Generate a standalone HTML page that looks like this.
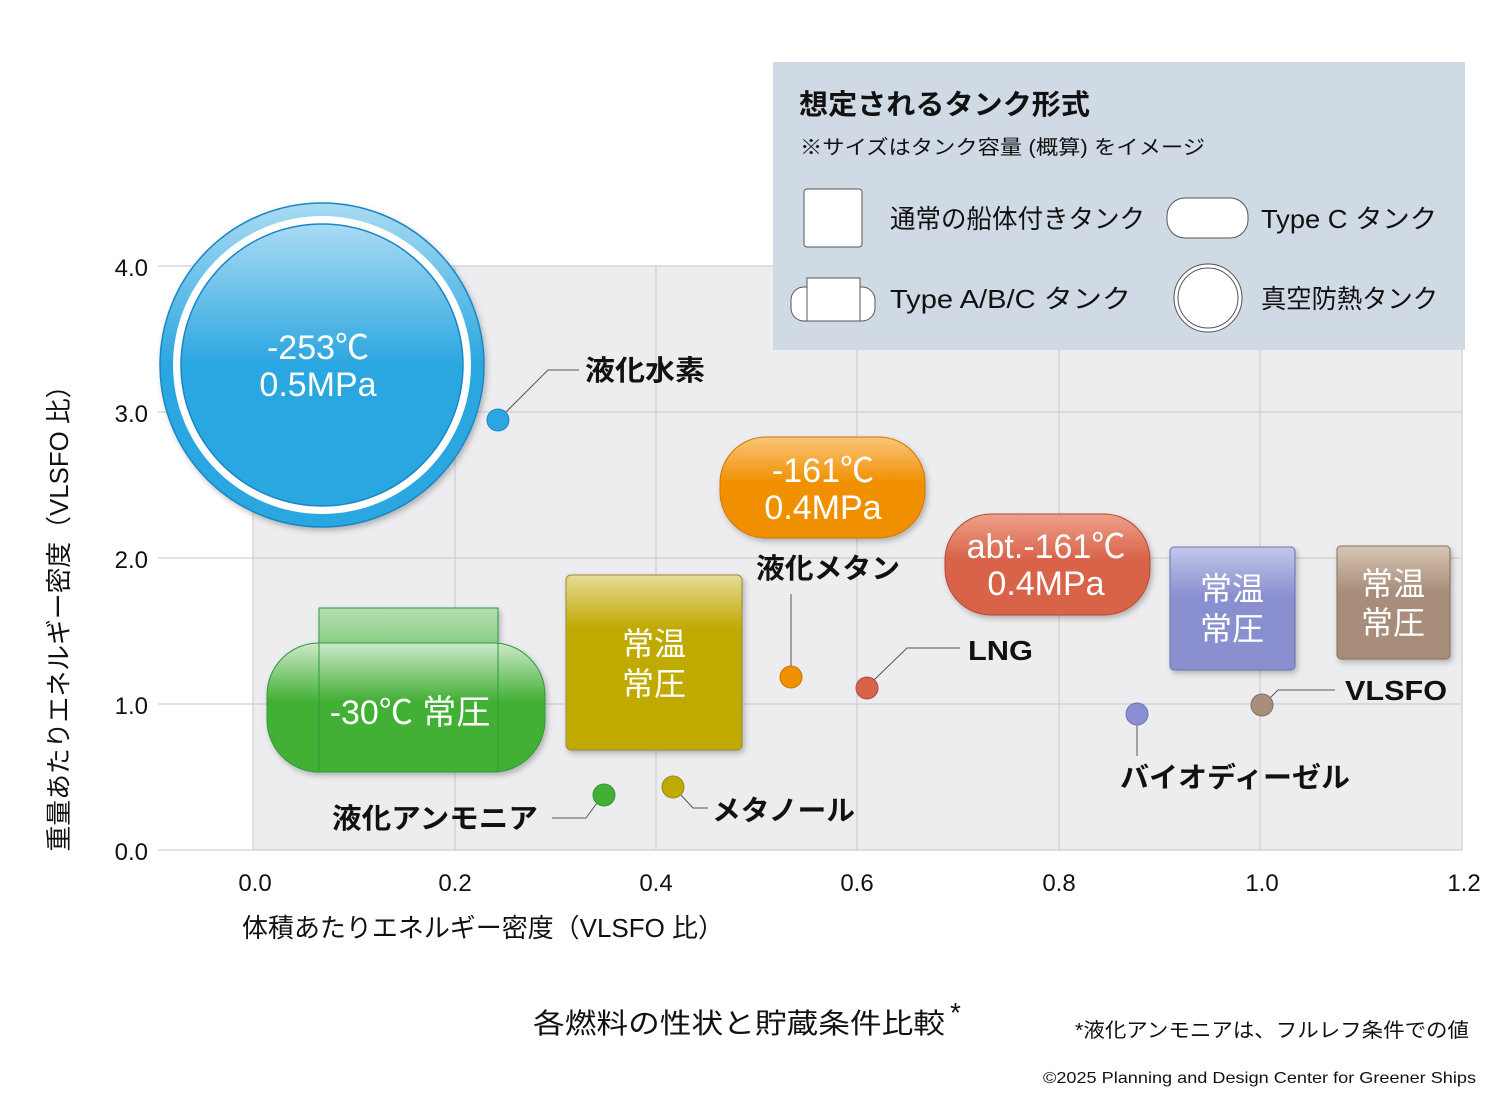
<!DOCTYPE html>
<html><head><meta charset="utf-8"><style>
html,body{margin:0;padding:0;background:#fff}
svg{display:block}
text{font-family:"Liberation Sans","Noto Sans CJK JP",sans-serif}
</style></head><body>
<svg width="1501" height="1102" viewBox="0 0 1501 1102" xmlns="http://www.w3.org/2000/svg">
<defs>
<linearGradient id="gb" x1="0" y1="0" x2="0" y2="1"><stop offset="0" stop-color="#a9dbf3"/><stop offset="0.5" stop-color="#2ba6e0"/><stop offset="1" stop-color="#2ba6e0"/></linearGradient>
<linearGradient id="go" x1="0" y1="0" x2="0" y2="1"><stop offset="0" stop-color="#f9c57a"/><stop offset="0.45" stop-color="#f09000"/><stop offset="1" stop-color="#f09000"/></linearGradient>
<linearGradient id="gr" x1="0" y1="0" x2="0" y2="1"><stop offset="0" stop-color="#eda08a"/><stop offset="0.45" stop-color="#d9634a"/><stop offset="1" stop-color="#d9634a"/></linearGradient>
<linearGradient id="gp" x1="0" y1="0" x2="0" y2="1"><stop offset="0" stop-color="#c2c6ea"/><stop offset="0.4" stop-color="#8a90cf"/><stop offset="1" stop-color="#8a90cf"/></linearGradient>
<linearGradient id="gw" x1="0" y1="0" x2="0" y2="1"><stop offset="0" stop-color="#d7c6b5"/><stop offset="0.4" stop-color="#a88e7a"/><stop offset="1" stop-color="#a88e7a"/></linearGradient>
<linearGradient id="gy" x1="0" y1="0" x2="0" y2="1"><stop offset="0" stop-color="#e6dc98"/><stop offset="0.3" stop-color="#c0aa05"/><stop offset="1" stop-color="#c0aa05"/></linearGradient>
<linearGradient id="gg" x1="0" y1="0" x2="0" y2="1"><stop offset="0" stop-color="#cdeacb"/><stop offset="0.45" stop-color="#43b035"/><stop offset="1" stop-color="#43b035"/></linearGradient>
<linearGradient id="gg2" x1="0" y1="0" x2="0" y2="1"><stop offset="0" stop-color="#b4e0b0"/><stop offset="1" stop-color="#86cc7e"/></linearGradient>
<filter id="sh" x="-20%" y="-20%" width="140%" height="140%"><feDropShadow dx="2" dy="3" stdDeviation="3" flood-color="#000" flood-opacity="0.25"/></filter>
</defs>
<rect x="253" y="266" width="1209" height="584" fill="#ededf0"/>
<g stroke="#cfcfd2" stroke-width="1.2">
<line x1="158" y1="266" x2="1462" y2="266"/><line x1="158" y1="412" x2="1462" y2="412"/><line x1="158" y1="558" x2="1462" y2="558"/><line x1="158" y1="704" x2="1462" y2="704"/><line x1="158" y1="850" x2="1462" y2="850"/>
<line x1="253" y1="266" x2="253" y2="850"/><line x1="455" y1="266" x2="455" y2="850"/><line x1="656" y1="266" x2="656" y2="850"/><line x1="857" y1="266" x2="857" y2="850"/><line x1="1059" y1="266" x2="1059" y2="850"/><line x1="1260" y1="266" x2="1260" y2="850"/><line x1="1462" y1="266" x2="1462" y2="850"/>
</g>
<g font-size="24" fill="#111" text-anchor="end">
<text x="148" y="276">4.0</text><text x="148" y="422">3.0</text><text x="148" y="568">2.0</text><text x="148" y="714">1.0</text><text x="148" y="860">0.0</text>
</g>
<g font-size="24" fill="#111" text-anchor="middle">
<text x="255" y="891">0.0</text><text x="455" y="891">0.2</text><text x="656" y="891">0.4</text><text x="857" y="891">0.6</text><text x="1059" y="891">0.8</text><text x="1262" y="891">1.0</text><text x="1464" y="891">1.2</text>
</g>
<text x="242" y="937" font-size="26" fill="#111" textLength="482" lengthAdjust="spacingAndGlyphs">体積あたりエネルギー密度（VLSFO 比）</text>
<text transform="translate(68,612) rotate(-90)" font-size="26" fill="#111" text-anchor="middle" textLength="479" lengthAdjust="spacingAndGlyphs">重量あたりエネルギー密度（VLSFO 比）</text>

<rect x="773" y="62" width="692" height="288" fill="#d0dae4"/>
<text x="799" y="114" font-size="28" font-weight="bold" fill="#111" textLength="291" lengthAdjust="spacingAndGlyphs">想定されるタンク形式</text>
<text x="800" y="154" font-size="20" fill="#111" textLength="405" lengthAdjust="spacingAndGlyphs">※サイズはタンク容量 (概算) をイメージ</text>
<rect x="804" y="189" width="58" height="58" rx="3" fill="#fff" stroke="#555"/>
<text x="890" y="228" font-size="26" fill="#111" textLength="255" lengthAdjust="spacingAndGlyphs">通常の船体付きタンク</text>
<rect x="1167" y="198" width="81" height="40" rx="18" fill="#fff" stroke="#555"/>
<text x="1261" y="228" font-size="26" fill="#111" textLength="176" lengthAdjust="spacingAndGlyphs">Type C タンク</text>
<rect x="791" y="287" width="84" height="34" rx="13" fill="#fff" stroke="#555"/>
<rect x="807" y="278" width="53" height="43" fill="#fff" stroke="#555"/>
<text x="890" y="308" font-size="26" fill="#111" textLength="241" lengthAdjust="spacingAndGlyphs">Type A/B/C タンク</text>
<circle cx="1208" cy="298" r="34" fill="#fff" stroke="#555"/>
<circle cx="1208" cy="298" r="30" fill="#fff" stroke="#555"/>
<text x="1261" y="308" font-size="26" fill="#111" textLength="177" lengthAdjust="spacingAndGlyphs">真空防熱タンク</text>

<g filter="url(#sh)">
<circle cx="322" cy="365" r="162" fill="url(#gb)" stroke="#1a86c4" stroke-width="1.5"/>
<circle cx="322" cy="365" r="149" fill="#fff"/>
<circle cx="322" cy="365" r="141" fill="url(#gb)" stroke="#1a86c4" stroke-width="1.5"/>
</g>
<text x="318" y="359" font-size="34" fill="#fff" text-anchor="middle">-253℃</text>
<text x="318" y="396" font-size="34" fill="#fff" text-anchor="middle">0.5MPa</text>
<polyline points="506,412 548,370 579,370" fill="none" stroke="#555" stroke-width="1"/>
<circle cx="498" cy="420" r="11" fill="#2ba6e0" stroke="#1a86c4"/>
<text x="585" y="380" font-size="28" font-weight="bold" fill="#111" textLength="120" lengthAdjust="spacingAndGlyphs">液化水素</text>

<rect x="720" y="437" width="205" height="101" rx="46" fill="url(#go)" stroke="#d07800" filter="url(#sh)"/>
<text x="823" y="482" font-size="34" fill="#fff" text-anchor="middle">-161℃</text>
<text x="823" y="519" font-size="34" fill="#fff" text-anchor="middle">0.4MPa</text>
<text x="756" y="578" font-size="28" font-weight="bold" fill="#111" textLength="144" lengthAdjust="spacingAndGlyphs">液化メタン</text>
<line x1="791" y1="594" x2="791" y2="666" stroke="#555"/>
<circle cx="791" cy="677" r="11" fill="#f09000" stroke="#c87400"/>

<rect x="945" y="514" width="205" height="101" rx="46" fill="url(#gr)" stroke="#b84a33" filter="url(#sh)"/>
<text x="1046" y="558" font-size="34" fill="#fff" text-anchor="middle">abt.-161℃</text>
<text x="1046" y="595" font-size="34" fill="#fff" text-anchor="middle">0.4MPa</text>
<polyline points="874,680 907,648 960,648" fill="none" stroke="#555"/>
<circle cx="867" cy="688" r="11" fill="#d9634a" stroke="#b84a33"/>
<text x="968" y="660" font-size="28" font-weight="bold" fill="#111" textLength="65" lengthAdjust="spacingAndGlyphs">LNG</text>

<rect x="1170" y="547" width="125" height="123" rx="4" fill="url(#gp)" stroke="#6d72b8" filter="url(#sh)"/>
<text x="1232" y="600" font-size="32" fill="#fff" text-anchor="middle">常温</text>
<text x="1232" y="640" font-size="32" fill="#fff" text-anchor="middle">常圧</text>
<line x1="1137" y1="725" x2="1137" y2="756" stroke="#555"/>
<circle cx="1137" cy="714" r="11" fill="#8a90cf" stroke="#6d72b8"/>
<text x="1120" y="787" font-size="28" font-weight="bold" fill="#111" textLength="230" lengthAdjust="spacingAndGlyphs">バイオディーゼル</text>

<rect x="1337" y="546" width="113" height="113" rx="4" fill="url(#gw)" stroke="#84705f" filter="url(#sh)"/>
<text x="1393" y="595" font-size="32" fill="#fff" text-anchor="middle">常温</text>
<text x="1393" y="634" font-size="32" fill="#fff" text-anchor="middle">常圧</text>
<polyline points="1270,698 1278,690 1335,690" fill="none" stroke="#555"/>
<circle cx="1262" cy="705" r="11" fill="#a88e7a" stroke="#84705f"/>
<text x="1345" y="700" font-size="28" font-weight="bold" fill="#111" textLength="102" lengthAdjust="spacingAndGlyphs">VLSFO</text>

<rect x="566" y="575" width="176" height="175" rx="5" fill="url(#gy)" stroke="#9c8a3a" filter="url(#sh)"/>
<text x="654" y="655" font-size="32" fill="#fff" text-anchor="middle">常温</text>
<text x="654" y="695" font-size="32" fill="#fff" text-anchor="middle">常圧</text>
<polyline points="681,795 693,808 708,808" fill="none" stroke="#555"/>
<circle cx="673" cy="787" r="11" fill="#c0aa05" stroke="#9c8a10"/>
<text x="712" y="820" font-size="28" font-weight="bold" fill="#111" textLength="143" lengthAdjust="spacingAndGlyphs">メタノール</text>

<g filter="url(#sh)">
<rect x="319" y="608" width="179" height="40" fill="url(#gg2)" stroke="#2e9a3e"/>
<rect x="267" y="643" width="278" height="129" rx="52" fill="url(#gg)" stroke="#2e9a3e"/>
</g>
<line x1="319" y1="643" x2="319" y2="772" stroke="#2e9a3e"/>
<line x1="498" y1="643" x2="498" y2="772" stroke="#2e9a3e"/>
<text x="410" y="724" font-size="34" fill="#fff" text-anchor="middle">-30℃ 常圧</text>
<polyline points="597,803 586,818 552,818" fill="none" stroke="#555"/>
<circle cx="604" cy="795" r="11" fill="#43b035" stroke="#2e9a3e"/>
<text x="332" y="828" font-size="28" font-weight="bold" fill="#111" textLength="206" lengthAdjust="spacingAndGlyphs">液化アンモニア</text>

<text x="533" y="1033" font-size="28" fill="#111" textLength="412" lengthAdjust="spacingAndGlyphs">各燃料の性状と貯蔵条件比較</text>
<text x="950" y="1022" font-size="28" fill="#111">*</text>
<text x="1075" y="1037" font-size="20" fill="#111" textLength="394" lengthAdjust="spacingAndGlyphs">*液化アンモニアは、フルレフ条件での値</text>
<text x="1043" y="1083" font-size="16" fill="#111" textLength="433" lengthAdjust="spacingAndGlyphs">©2025 Planning and Design Center for Greener Ships</text>
</svg>
</body></html>
